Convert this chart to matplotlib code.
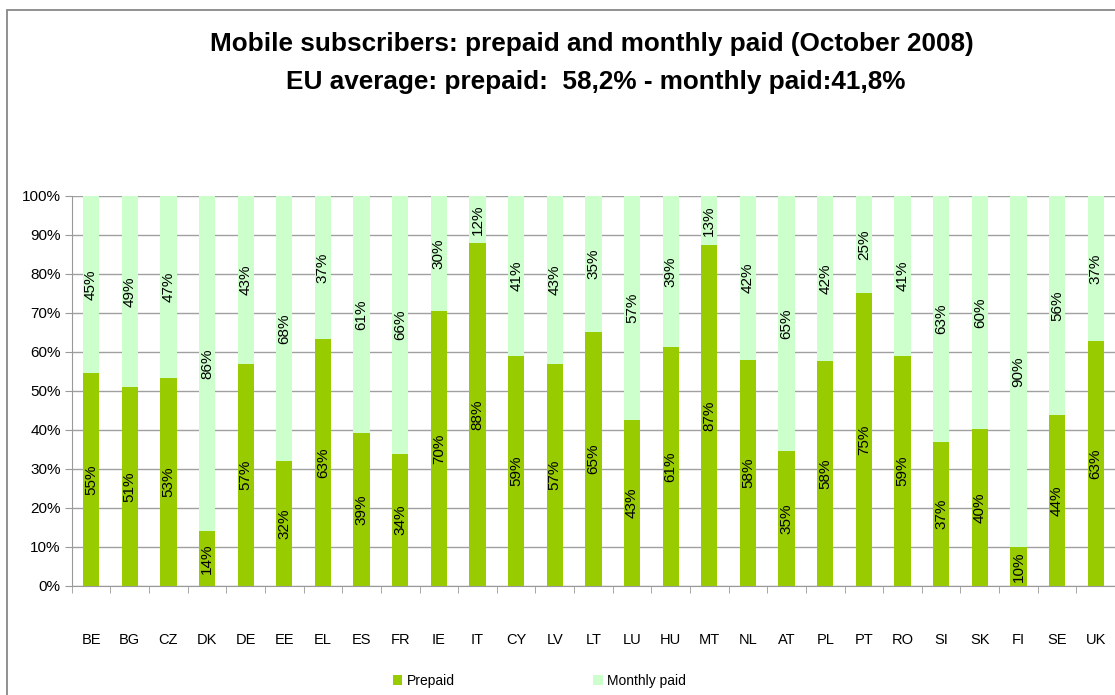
import matplotlib.pyplot as plt
from matplotlib.patches import Rectangle
import numpy as np

plt.rcParams['font.family'] = ['Liberation Sans', 'DejaVu Sans']

# Data (share of subscribers, %)
countries = ['BE', 'BG', 'CZ', 'DK', 'DE', 'EE', 'EL', 'ES', 'FR', 'IE', 'IT',
             'CY', 'LV', 'LT', 'LU', 'HU', 'MT', 'NL', 'AT', 'PL', 'PT', 'RO',
             'SI', 'SK', 'FI', 'SE', 'UK']
prepaid = [54.6, 51.0, 53.3, 14.0, 56.8, 32.0, 63.2, 39.2, 33.8, 70.4, 88.0,
           59.0, 57.0, 65.2, 42.6, 61.2, 87.4, 58.0, 34.6, 57.7, 75.0, 59.0,
           37.0, 40.2, 10.0, 43.8, 62.8]
monthly = [45.4, 49.0, 46.7, 86.0, 43.2, 68.0, 36.8, 60.8, 66.2, 29.6, 12.0,
           41.0, 43.0, 34.8, 57.4, 38.8, 12.6, 42.0, 65.4, 42.3, 25.0, 41.0,
           63.0, 59.8, 90.0, 56.2, 37.2]

prepaid_color = '#99CC00'
monthly_color = '#CCFFCC'

fig = plt.figure(figsize=(11.15, 6.95), dpi=100)
ax = fig.add_axes([0.0644, 0.157, 0.9356, 0.561])

x = np.arange(len(countries))
b1 = ax.bar(x, prepaid, width=0.42, color=prepaid_color, label='Prepaid', zorder=2)
b2 = ax.bar(x, monthly, width=0.42, bottom=prepaid, color=monthly_color,
            label='Monthly paid', zorder=2)

# value labels in the middle of each segment
for i in range(len(countries)):
    ax.text(x[i], prepaid[i] / 2, '%d%%' % round(prepaid[i]), rotation=90,
            ha='center', va='center', fontsize=11, zorder=3)
    ax.text(x[i], prepaid[i] + monthly[i] / 2, '%d%%' % round(monthly[i]),
            rotation=90, ha='center', va='center', fontsize=11, zorder=3)

ax.set_xlim(-0.5, len(countries) - 0.5)
ax.set_ylim(0, 100)
ax.set_yticks(np.arange(0, 101, 10))
ax.set_yticklabels(['%d%%' % v for v in range(0, 101, 10)])
ax.set_xticks(x)
ax.set_xticklabels(countries)
ax.set_xticks(np.arange(-0.5, len(countries), 1), minor=True)
ax.tick_params(axis='x', which='major', length=0, pad=34, labelsize=10.5)
ax.tick_params(axis='x', which='minor', length=5, color='#999999', direction='out')
ax.tick_params(axis='y', length=5, color='#999999', labelsize=11, pad=3)
ax.yaxis.grid(True, color='#a0a0a0', linewidth=1, zorder=0)
ax.set_axisbelow(True)
for s in ['top', 'right']:
    ax.spines[s].set_visible(False)
ax.spines['left'].set_color('#999999')
ax.spines['bottom'].set_color('#999999')
ax.spines['bottom'].set_zorder(4)

fig.text(0.531, 0.937, 'Mobile subscribers: prepaid and monthly paid (October 2008)',
         ha='center', va='center', fontsize=18.8, fontweight='bold')
fig.text(0.534, 0.882, 'EU average: prepaid:  58,2% - monthly paid:41,8%',
         ha='center', va='center', fontsize=18.8, fontweight='bold')

fig.legend(handles=[b1, b2], loc='center left', bbox_to_anchor=(0.341, 0.020),
           ncol=2, frameon=False, fontsize=10, handlelength=0.7, handleheight=0.7,
           handletextpad=0.3, columnspacing=10.0)

# outer chart frame (partly cut off in the original)
fig.patches.append(Rectangle((0.0067, -0.1), 1.2, 1.0856, transform=fig.transFigure,
                             fill=False, edgecolor='#888888', linewidth=1.3))

fig.savefig('out.png', dpi=100)
